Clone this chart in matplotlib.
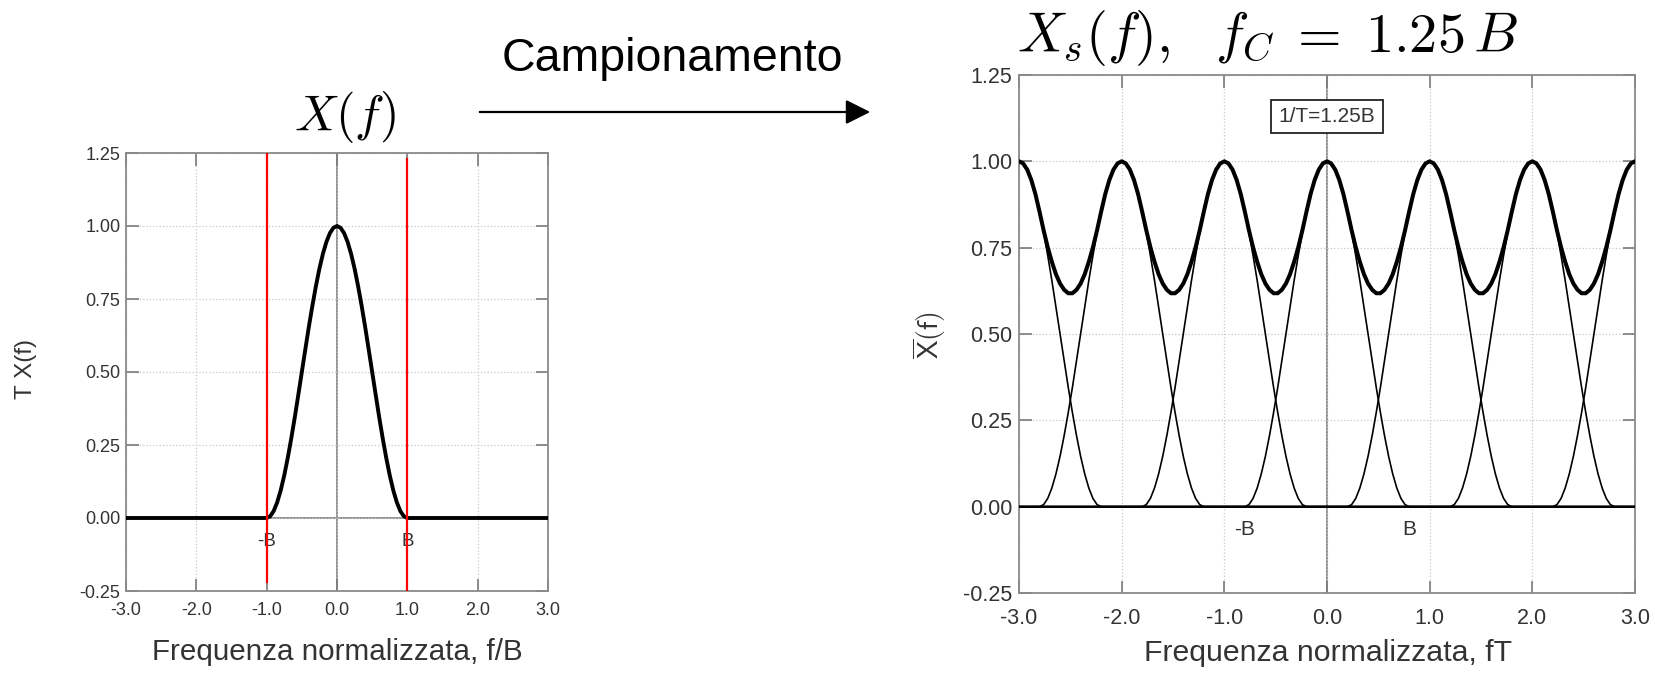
import numpy as np
import matplotlib
matplotlib.use("Agg")
import matplotlib.pyplot as plt

plt.rcParams["font.family"] = ["Liberation Sans", "DejaVu Sans"]
plt.rcParams["mathtext.fontset"] = "cm"

# pulse shape T X(f), read at f/B = -1.0 ... 1.0 (step 0.05)
pulse_fb = np.linspace(-1.0, 1.0, 41)
pulse_val = [0.000, 0.006, 0.024, 0.054, 0.095, 0.146, 0.206, 0.273, 0.345, 0.422,
             0.500, 0.578, 0.655, 0.727, 0.794, 0.854, 0.905, 0.946, 0.976, 0.994,
             1.000,
             0.994, 0.976, 0.946, 0.905, 0.854, 0.794, 0.727, 0.655, 0.578, 0.500,
             0.422, 0.345, 0.273, 0.206, 0.146, 0.095, 0.054, 0.024, 0.006, 0.000]

# sampling: 1/T = 1.25 B, replicas centred on integer fT
rate_over_b = 1.25
replica_centers = [-3, -2, -1, 0, 1, 2, 3]

x_ticks = [-3.0, -2.0, -1.0, 0.0, 1.0, 2.0, 3.0]
y_ticks = [-0.25, 0.0, 0.25, 0.50, 0.75, 1.00, 1.25]

W, H = 1655, 678
fig = plt.figure(figsize=(W / 100, H / 100), dpi=100)
TXT = "#333333"


def style_axes(ax, fs, xpad, ypad):
    ax.set_xlim(-3, 3)
    ax.set_ylim(-0.25, 1.25)
    ax.set_xticks(x_ticks)
    ax.set_yticks(y_ticks)
    ax.set_xticklabels(["%.1f" % v for v in x_ticks])
    ax.set_yticklabels(["%.2f" % v for v in y_ticks])
    ax.grid(True, ls=":", color="#c8c8c8", lw=0.9)
    ax.axvline(0, color="#8a8a8a", lw=1.3, zorder=1)
    ax.axhline(0, color="#8a8a8a", lw=1.3, zorder=1)
    ax.tick_params(direction="in", top=True, right=True, length=9, width=1.2,
                   color="#7a7a7a", labelsize=fs, labelcolor=TXT)
    ax.tick_params(axis="x", pad=xpad)
    ax.tick_params(axis="y", pad=ypad)
    for s in ax.spines.values():
        s.set_color("#8a8a8a")
        s.set_linewidth(1.3)


# ---- left: original spectrum
ax1 = fig.add_axes([126 / W, 1 - 591 / H, 422 / W, 438 / H])
style_axes(ax1, 13, 8, 4)
xl = np.concatenate([[-3.0], pulse_fb, [3.0]])
yl = np.concatenate([[0.0], pulse_val, [0.0]])
ax1.plot(xl, yl, color="black", lw=2.8, zorder=3)
ax1.plot([-1, -1], [-0.22, 1.25], color="red", lw=1.6, zorder=4)
ax1.plot([1, 1], [-0.25, 1.23], color="red", lw=1.6, zorder=4)
ax1.text(-1, -0.08, "-B", ha="center", va="center", fontsize=13.5, color=TXT)
ax1.text(1, -0.08, "B", ha="center", va="center", fontsize=13.5, color=TXT)

# ---- right: sampled spectrum
ax2 = fig.add_axes([1019 / W, 1 - 593 / H, 616 / W, 518 / H])
style_axes(ax2, 15.5, 11, 5)
bt = 1 / rate_over_b
step = 0.05 * bt
n_half = int(round(3 / step))
grid = np.arange(-n_half, n_half + 1) * step
total = np.zeros_like(grid)
for c in replica_centers:
    rep = np.zeros_like(grid)
    mid = int(round(c / step)) + n_half
    for i, v in enumerate(pulse_val):
        j = mid - 20 + i
        if 0 <= j < len(grid):
            rep[j] = v
    total += rep
    ax2.plot(grid, rep, color="black", lw=1.2, zorder=3)
ax2.plot(grid, total, color="black", lw=2.9, zorder=4)
ax2.text(-bt, -0.065, "-B", ha="center", va="center", fontsize=15, color=TXT)
ax2.text(bt, -0.065, "B", ha="center", va="center", fontsize=15, color=TXT)
ax2.text(0, 1.13, "1/T=1.25B", ha="center", va="center", fontsize=15, color=TXT,
         bbox=dict(boxstyle="square,pad=0.35", fc="white", ec="#222222", lw=1.3), zorder=5)

# ---- labels and titles
fig.text(26 / W, 1 - 369 / H, "T X(f)", rotation=90, ha="center", va="center",
         fontsize=17.5, color=TXT)
fig.text(337 / W, 1 - 652 / H, "Frequenza normalizzata, f/B", ha="center", va="center",
         fontsize=21.3, color=TXT)
fig.text(929 / W, 1 - 335 / H, r"$\overline{\mathsf{X}}\mathsf{(f)}$", rotation=90,
         ha="center", va="center", fontsize=20, color=TXT)
fig.text(1328 / W, 1 - 653 / H, "Frequenza normalizzata, fT", ha="center", va="center",
         fontsize=21.8, color=TXT)

fig.text(345 / W, 1 - 117 / H, r"$X(f)$", ha="center", va="center", fontsize=36)
fig.text(1268 / W, 1 - 38 / H, r"$X_s(f),\ \ f_C\;=\;1.25\,B$", ha="center", va="center",
         fontsize=40.5)

fig.text(672 / W, 1 - 71 / H, "Campionamento", ha="center", va="baseline", fontsize=33.5)
fig.add_artist(matplotlib.patches.FancyArrowPatch(
    (477 / W, 1 - 112 / H), (873 / W, 1 - 112 / H), transform=fig.transFigure,
    arrowstyle="-|>,head_length=1.0,head_width=0.5", mutation_scale=15,
    color="black", lw=1.6))

fig.savefig("out.png", dpi=100)
